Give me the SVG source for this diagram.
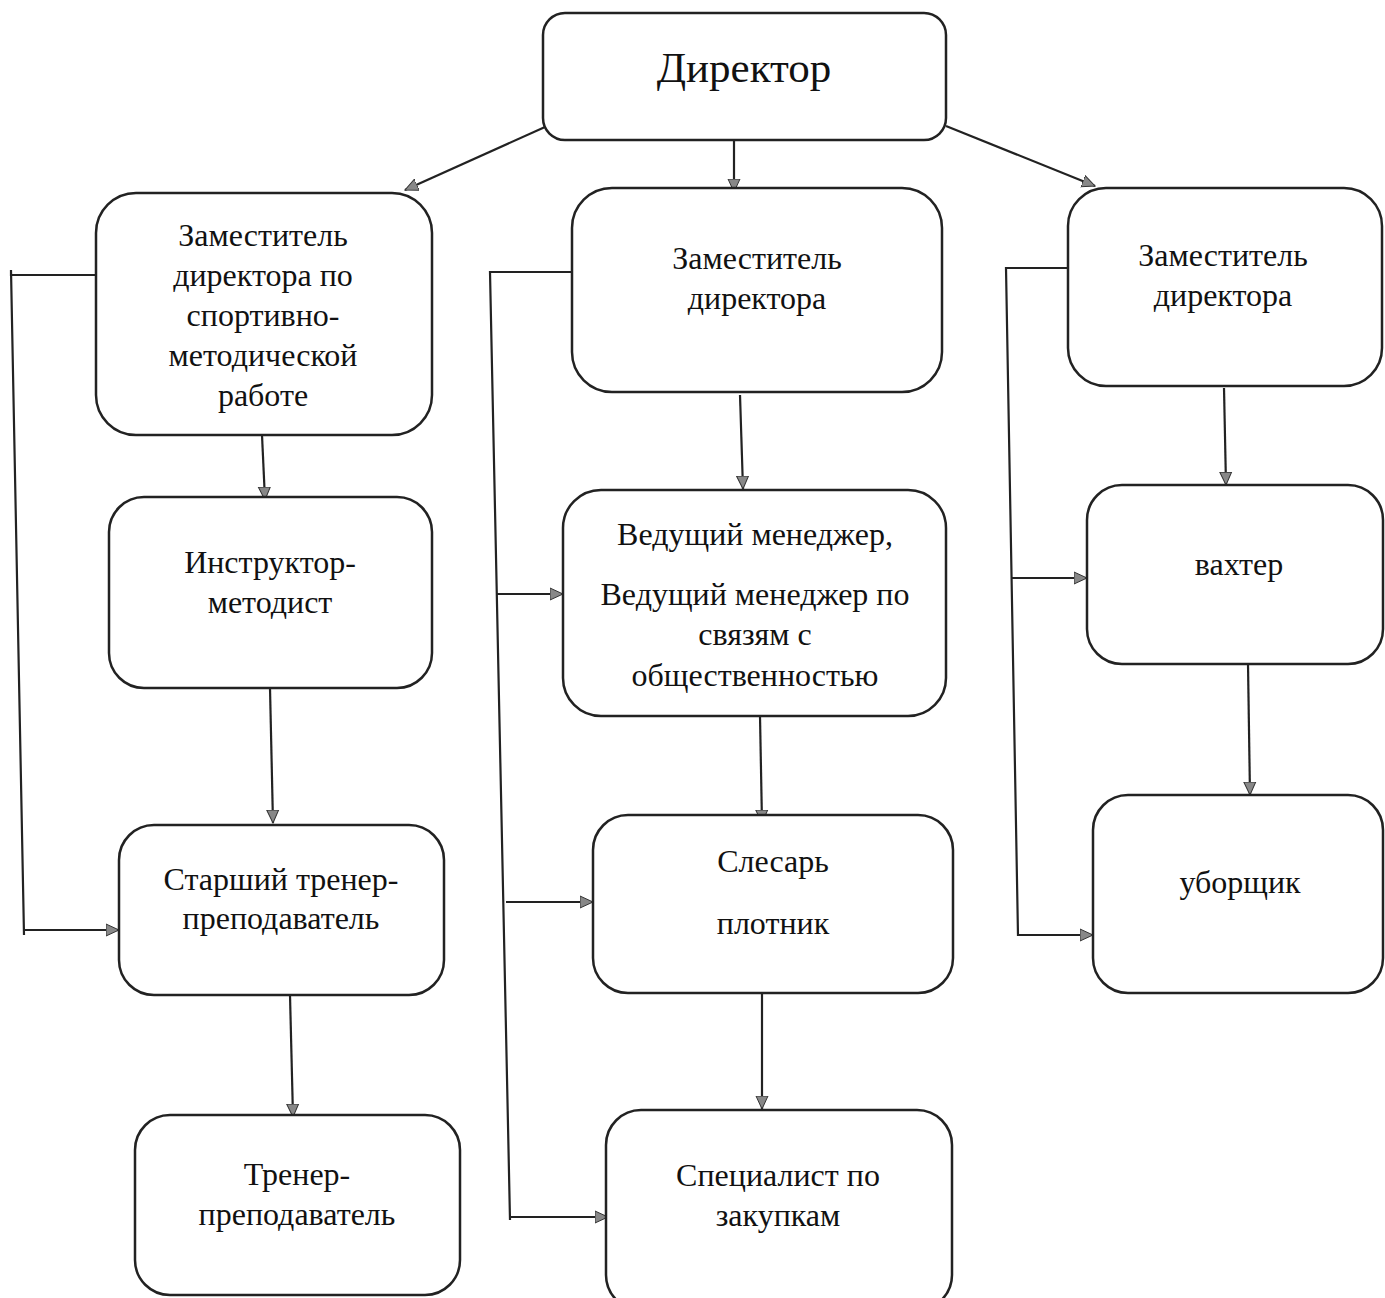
<svg xmlns="http://www.w3.org/2000/svg" width="1385" height="1298" viewBox="0 0 1385 1298">
<defs>
<style>
.box{fill:#fff;stroke:#222;stroke-width:2.5}
.t{font-family:"Liberation Serif","Times New Roman",serif;font-size:32px;fill:#111;text-anchor:middle}
.c{fill:none;stroke:#222;stroke-width:2.2}
</style>
<marker id="ah" viewBox="0 0 14 14" refX="13" refY="7" markerWidth="14" markerHeight="14" markerUnits="userSpaceOnUse" orient="auto">
<path d="M0,1 L13,7 L0,13 Z" fill="#888" stroke="#333" stroke-width="1"/>
</marker>
</defs>
<rect width="1385" height="1298" fill="#fff"/>

<g id="connectors">
<line class="c" x1="545" y1="127" x2="405" y2="190" marker-end="url(#ah)"/>
<line class="c" x1="734" y1="140" x2="734" y2="192" marker-end="url(#ah)"/>
<line class="c" x1="946" y1="126" x2="1095" y2="186" marker-end="url(#ah)"/>

<line class="c" x1="262" y1="435" x2="265" y2="500" marker-end="url(#ah)"/>
<line class="c" x1="270" y1="688" x2="273" y2="823" marker-end="url(#ah)"/>
<line class="c" x1="290" y1="995" x2="293" y2="1117" marker-end="url(#ah)"/>
<polyline class="c" points="96,275 11,275 11,270 24,935"/>
<line class="c" x1="23" y1="930" x2="119" y2="930" marker-end="url(#ah)"/>

<line class="c" x1="740" y1="395" x2="743" y2="489" marker-end="url(#ah)"/>
<line class="c" x1="760" y1="716" x2="762" y2="823" marker-end="url(#ah)"/>
<line class="c" x1="762" y1="993" x2="762" y2="1109" marker-end="url(#ah)"/>
<polyline class="c" points="572,272 490,272 510,1220"/>
<line class="c" x1="497" y1="594" x2="563" y2="594" marker-end="url(#ah)"/>
<line class="c" x1="506" y1="902" x2="593" y2="902" marker-end="url(#ah)"/>
<line class="c" x1="509" y1="1217" x2="608" y2="1217" marker-end="url(#ah)"/>

<line class="c" x1="1224" y1="388" x2="1226" y2="485" marker-end="url(#ah)"/>
<line class="c" x1="1248" y1="664" x2="1250" y2="795" marker-end="url(#ah)"/>
<polyline class="c" points="1068,268 1006,268 1018,936"/>
<line class="c" x1="1012" y1="578" x2="1087" y2="578" marker-end="url(#ah)"/>
<line class="c" x1="1017" y1="935" x2="1093" y2="935" marker-end="url(#ah)"/>
</g>

<g id="director">
<rect class="box" x="543" y="13" width="403" height="127" rx="22"/>
<text class="t" x="744" y="82" style="font-size:43px">Директор</text>
</g>

<g id="dep-sport">
<rect class="box" x="96" y="193" width="336" height="242" rx="40"/>
<text class="t" x="263" y="246">Заместитель</text>
<text class="t" x="263" y="286">директора по</text>
<text class="t" x="263" y="326">спортивно-</text>
<text class="t" x="263" y="366">методической</text>
<text class="t" x="263" y="406">работе</text>
</g>
<g id="instructor">
<rect class="box" x="109" y="497" width="323" height="191" rx="35"/>
<text class="t" x="270" y="573">Инструктор-</text>
<text class="t" x="270" y="613">методист</text>
</g>
<g id="senior-coach">
<rect class="box" x="119" y="825" width="325" height="170" rx="35"/>
<text class="t" x="281" y="890">Старший тренер-</text>
<text class="t" x="281" y="929">преподаватель</text>
</g>
<g id="coach">
<rect class="box" x="135" y="1115" width="325" height="180" rx="35"/>
<text class="t" x="297" y="1185">Тренер-</text>
<text class="t" x="297" y="1225">преподаватель</text>
</g>

<g id="deputy-2">
<rect class="box" x="572" y="188" width="370" height="204" rx="40"/>
<text class="t" x="757" y="269">Заместитель</text>
<text class="t" x="757" y="309">директора</text>
</g>
<g id="managers">
<rect class="box" x="563" y="490" width="383" height="226" rx="38"/>
<text class="t" x="755" y="545">Ведущий менеджер,</text>
<text class="t" x="755" y="605">Ведущий менеджер по</text>
<text class="t" x="755" y="645">связям с</text>
<text class="t" x="755" y="686">общественностью</text>
</g>
<g id="locksmith">
<rect class="box" x="593" y="815" width="360" height="178" rx="35"/>
<text class="t" x="773" y="872">Слесарь</text>
<text class="t" x="773" y="934">плотник</text>
</g>
<g id="procurement">
<rect class="box" x="606" y="1110" width="346" height="200" rx="35"/>
<text class="t" x="778" y="1186">Специалист по</text>
<text class="t" x="778" y="1226">закупкам</text>
</g>

<g id="deputy-3">
<rect class="box" x="1068" y="188" width="314" height="198" rx="38"/>
<text class="t" x="1223" y="266">Заместитель</text>
<text class="t" x="1223" y="306">директора</text>
</g>
<g id="watchman">
<rect class="box" x="1087" y="485" width="296" height="179" rx="35"/>
<text class="t" x="1239" y="575">вахтер</text>
</g>
<g id="cleaner">
<rect class="box" x="1093" y="795" width="290" height="198" rx="35"/>
<text class="t" x="1240" y="893">уборщик</text>
</g>
</svg>
